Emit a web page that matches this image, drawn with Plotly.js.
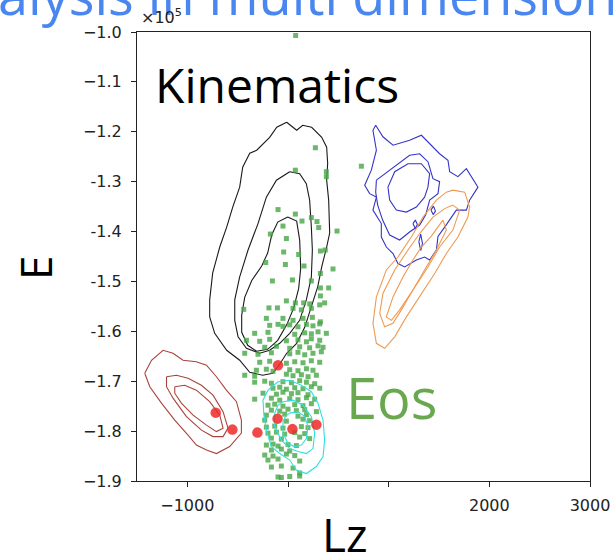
<!DOCTYPE html>
<html><head><meta charset="utf-8">
<script src="https://cdn.plot.ly/plotly-3.0.1.min.js"></script>
<style>html,body{margin:0;padding:0;background:#fff;}#chart{width:616px;height:557px;}</style>
</head><body><div id="chart"></div>
<script>
// E values are in units of 10^5
const xTickVals = [-1000, 0, 1000, 2000, 3000];
const xTickText = ['\u22121000', '', '', '2000', '3000'];
const yTickVals = [-1.0, -1.1, -1.2, -1.3, -1.4, -1.5, -1.6, -1.7, -1.8, -1.9];
const yTickText = ['\u22121.0', '\u22121.1', '\u22121.2', '-1.3', '-1.4', '-1.5', '-1.6', '\u22121.7', '\u22121.8', '\u22121.9'];

const kinOuter = [[-13,-1.181],[86,-1.197],[146,-1.187],[235,-1.191],[335,-1.211],[384,-1.231],[394,-1.263],[384,-1.297],[404,-1.337],[414,-1.403],[384,-1.431],[335,-1.471],[295,-1.511],[235,-1.551],[166,-1.592],[86,-1.624],[-13,-1.644],[-102,-1.672],[-152,-1.684],[-251,-1.688],[-380,-1.682],[-480,-1.658],[-609,-1.638],[-728,-1.604],[-778,-1.571],[-778,-1.537],[-748,-1.483],[-678,-1.431],[-609,-1.391],[-549,-1.351],[-480,-1.311],[-450,-1.271],[-380,-1.243],[-311,-1.237],[-182,-1.211],[-112,-1.191]];
const kinMiddle = [[17,-1.280],[116,-1.284],[182,-1.304],[215,-1.337],[232,-1.391],[242,-1.437],[232,-1.491],[182,-1.537],[116,-1.578],[17,-1.604],[-82,-1.624],[-182,-1.638],[-281,-1.644],[-413,-1.634],[-496,-1.611],[-529,-1.578],[-529,-1.537],[-480,-1.491],[-397,-1.437],[-298,-1.384],[-215,-1.331],[-115,-1.297]];
const kinInner = [[-3,-1.371],[86,-1.379],[116,-1.417],[126,-1.474],[106,-1.514],[57,-1.553],[-13,-1.587],[-102,-1.618],[-202,-1.636],[-311,-1.640],[-400,-1.628],[-460,-1.602],[-460,-1.568],[-430,-1.532],[-360,-1.498],[-261,-1.469],[-202,-1.443],[-162,-1.407],[-102,-1.381]];

const brownOuter = [[-1423,-1.684],[-1356,-1.658],[-1241,-1.638],[-1142,-1.644],[-1043,-1.658],[-910,-1.661],[-810,-1.668],[-711,-1.691],[-612,-1.718],[-512,-1.741],[-463,-1.778],[-463,-1.804],[-579,-1.831],[-711,-1.845],[-810,-1.838],[-910,-1.828],[-993,-1.808],[-1125,-1.778],[-1257,-1.744],[-1373,-1.711]];
const brownMiddle = [[-1207,-1.691],[-1108,-1.688],[-993,-1.694],[-860,-1.708],[-745,-1.728],[-645,-1.761],[-596,-1.794],[-645,-1.811],[-745,-1.811],[-860,-1.798],[-1009,-1.771],[-1142,-1.734],[-1207,-1.711]];
const brownInner = [[-1125,-1.711],[-1026,-1.708],[-910,-1.718],[-778,-1.741],[-678,-1.768],[-645,-1.794],[-711,-1.801],[-810,-1.788],[-943,-1.768],[-1059,-1.744],[-1125,-1.724]];

const cyanOuter = [[-99,-1.701],[17,-1.698],[133,-1.708],[232,-1.721],[298,-1.744],[348,-1.778],[364,-1.818],[348,-1.851],[282,-1.871],[183,-1.885],[83,-1.878],[17,-1.858],[-82,-1.845],[-165,-1.831],[-215,-1.798],[-241,-1.764],[-248,-1.738],[-199,-1.718]];
const cyanMiddle = [[-50,-1.741],[50,-1.738],[149,-1.748],[232,-1.771],[265,-1.804],[248,-1.835],[183,-1.845],[99,-1.841],[17,-1.835],[-66,-1.818],[-132,-1.791],[-132,-1.764],[-99,-1.748]];
const cyanInner = [[17,-1.764],[99,-1.761],[166,-1.771],[199,-1.791],[183,-1.815],[133,-1.828],[67,-1.831],[0,-1.825],[-50,-1.804],[-50,-1.781],[-23,-1.770]];

const blueOuter = [[871,-1.187],[943,-1.210],[1043,-1.227],[1208,-1.217],[1325,-1.207],[1424,-1.227],[1506,-1.244],[1589,-1.257],[1606,-1.280],[1688,-1.290],[1772,-1.274],[1887,-1.311],[1804,-1.337],[1772,-1.357],[1672,-1.357],[1560,-1.390],[1490,-1.410],[1474,-1.437],[1407,-1.457],[1357,-1.451],[1275,-1.457],[1159,-1.471],[1092,-1.464],[1043,-1.444],[977,-1.431],[927,-1.411],[927,-1.384],[844,-1.357],[878,-1.331],[811,-1.324],[762,-1.307],[828,-1.277],[878,-1.237],[844,-1.197]];
const blueMiddle = [[878,-1.297],[1010,-1.277],[1208,-1.247],[1308,-1.244],[1390,-1.260],[1440,-1.294],[1506,-1.300],[1490,-1.324],[1407,-1.337],[1367,-1.367],[1308,-1.387],[1208,-1.401],[1109,-1.417],[1010,-1.407],[940,-1.377],[891,-1.347],[871,-1.321]];
const blueInner = [[993,-1.311],[1060,-1.280],[1192,-1.264],[1325,-1.264],[1407,-1.284],[1390,-1.311],[1357,-1.331],[1275,-1.351],[1176,-1.361],[1076,-1.357],[1010,-1.337]];
const blueIsland1 = [[1241,-1.384],[1265,-1.377],[1285,-1.386],[1265,-1.394]];
const blueIsland2 = [[1420,-1.357],[1445,-1.349],[1465,-1.359],[1442,-1.366]];
const blueIsland3 = [[1300,-1.420],[1318,-1.405],[1336,-1.424],[1318,-1.438]];

const orangeOuter = [[1638,-1.317],[1755,-1.321],[1804,-1.351],[1787,-1.371],[1688,-1.411],[1573,-1.444],[1457,-1.484],[1308,-1.531],[1176,-1.571],[1060,-1.611],[960,-1.634],[878,-1.624],[844,-1.584],[878,-1.531],[977,-1.477],[1092,-1.451],[1225,-1.411],[1341,-1.371],[1474,-1.337],[1573,-1.321]];
const orangeMiddle = [[1638,-1.347],[1705,-1.357],[1638,-1.397],[1506,-1.431],[1390,-1.471],[1241,-1.517],[1126,-1.557],[1043,-1.584],[960,-1.591],[911,-1.564],[943,-1.524],[1060,-1.477],[1192,-1.437],[1308,-1.404],[1440,-1.371],[1556,-1.354]];
const orangeInner = [[1539,-1.377],[1420,-1.410],[1325,-1.431],[1241,-1.457],[1142,-1.491],[1043,-1.531],[977,-1.571],[1027,-1.578],[1109,-1.557],[1241,-1.517],[1357,-1.477],[1474,-1.437],[1573,-1.397]];

const greenStars = [
 [76,-1.007],[272,-1.232],[73,-1.277],[381,-1.280],[381,-1.290],[729,-1.269],
 [-99,-1.356],[73,-1.365],[-50,-1.389],[139,-1.379],[232,-1.372],[288,-1.380],[305,-1.392],[487,-1.399],
 [-175,-1.405],[-16,-1.414],[-43,-1.441],[106,-1.446],[322,-1.439],[370,-1.437],
 [-221,-1.462],[-26,-1.466],[159,-1.469],[447,-1.475],[322,-1.484],
 [-155,-1.499],[44,-1.497],[232,-1.499],[322,-1.513],[404,-1.513],
 [-16,-1.539],[73,-1.543],[156,-1.543],[322,-1.529],[364,-1.543],[216,-1.545],[315,-1.547],
 [-440,-1.556],[-189,-1.553],[-105,-1.553],[50,-1.554],[133,-1.557],[232,-1.554],
 [-50,-1.574],[-215,-1.574],[50,-1.578],[149,-1.574],[242,-1.572],[322,-1.581],
 [-182,-1.588],[-99,-1.586],[-50,-1.590],[17,-1.587],[99,-1.591],[183,-1.586],[248,-1.589],[315,-1.585],
 [-331,-1.604],[-199,-1.602],[67,-1.606],[166,-1.603],[232,-1.605],[298,-1.601],[381,-1.604],
 [-413,-1.618],[-281,-1.620],[-182,-1.616],[-16,-1.619],[99,-1.617],[183,-1.621],[232,-1.615],[315,-1.618],
 [-231,-1.632],[-115,-1.630],[17,-1.634],[116,-1.631],[215,-1.633],[298,-1.629],[348,-1.632],
 [-430,-1.644],[-298,-1.646],[-165,-1.643],[17,-1.645],[99,-1.642],[166,-1.647],[248,-1.644],[331,-1.641],
 [-281,-1.662],[-182,-1.660],[-16,-1.664],[67,-1.661],[149,-1.663],[232,-1.659],[315,-1.662],
 [-314,-1.678],[-215,-1.676],[-149,-1.680],[17,-1.677],[99,-1.679],[183,-1.675],[248,-1.678],
 [-430,-1.688],[-331,-1.690],[-16,-1.686],[50,-1.689],[133,-1.687],[199,-1.691],[282,-1.688],
 [-331,-1.702],[-231,-1.700],[-165,-1.704],[-50,-1.701],[34,-1.703],[116,-1.699],[183,-1.702],[265,-1.705],
 [-149,-1.714],[-82,-1.712],[-16,-1.716],[67,-1.713],[149,-1.715],[232,-1.711],[315,-1.714],
 [-248,-1.724],[-115,-1.726],[-50,-1.722],[34,-1.725],[99,-1.723],[199,-1.727],
 [-331,-1.736],[-165,-1.734],[-82,-1.738],[17,-1.735],[99,-1.737],[183,-1.733],[265,-1.736],
 [-199,-1.748],[-132,-1.746],[-50,-1.750],[67,-1.747],[149,-1.749],[232,-1.745],
 [-165,-1.758],[-82,-1.760],[0,-1.756],[83,-1.759],[166,-1.757],[282,-1.761],
 [-215,-1.768],[-33,-1.766],[99,-1.770],[183,-1.767],
 [-231,-1.778],[-16,-1.780],[149,-1.776],[215,-1.779],
 [-215,-1.792],[-132,-1.790],[-50,-1.794],[133,-1.791],[199,-1.793],
 [-199,-1.804],[-115,-1.802],[-33,-1.806],[67,-1.803],[166,-1.805],
 [-165,-1.814],[-66,-1.816],[116,-1.812],[215,-1.815],
 [-215,-1.828],[-149,-1.826],[-99,-1.830],[0,-1.827],[83,-1.829],
 [-165,-1.838],[-66,-1.836],[17,-1.840],
 [-231,-1.848],[-149,-1.850],[-16,-1.846],[67,-1.849],
 [-199,-1.858],[-99,-1.856],[116,-1.860],
 [-165,-1.872],[-66,-1.870],[50,-1.874],
 [116,-1.884],
 [-99,-1.892],[-66,-1.893],[17,-1.891],[116,-1.890]
];
const redStars = [[-718,-1.763],[-552,-1.797],[-304,-1.803],[-104,-1.775],[44,-1.796],[282,-1.787],[-99,-1.668]];

function contourTrace(pts, color){
  const c = pts.concat([pts[0]]);
  return {type:'scatter', mode:'lines', x:c.map(p=>p[0]), y:c.map(p=>p[1]),
          line:{color:color, width:1.1}, hoverinfo:'skip', showlegend:false};
}
const traces = [];
[[kinOuter,'#1a1a1a'],[kinMiddle,'#1a1a1a'],[kinInner,'#1a1a1a'],
 [brownOuter,'#a8443c'],[brownMiddle,'#a8443c'],[brownInner,'#a8443c'],
 [blueOuter,'#3434c8'],[blueMiddle,'#3434c8'],[blueInner,'#3434c8'],
 [blueIsland1,'#3434c8'],[blueIsland2,'#3434c8'],[blueIsland3,'#3434c8'],
 [orangeOuter,'#ef9a52'],[orangeMiddle,'#ef9a52'],[orangeInner,'#ef9a52']
].forEach(([p,c])=>traces.push(contourTrace(p,c)));
traces.push({type:'scatter', mode:'markers', x:greenStars.map(p=>p[0]), y:greenStars.map(p=>p[1]),
  marker:{symbol:'square', size:5, color:'rgba(70,165,70,0.8)', line:{width:0}}, showlegend:false});
[[cyanOuter,'#2fe0e0'],[cyanMiddle,'#2fe0e0'],[cyanInner,'#2fe0e0']].forEach(([p,c])=>traces.push(contourTrace(p,c)));
traces.push({type:'scatter', mode:'markers', x:redStars.map(p=>p[0]), y:redStars.map(p=>p[1]),
  marker:{symbol:'circle', size:10.5, color:'rgba(238,40,40,0.85)', line:{width:0}}, showlegend:false});

const L=137, R=590, T=32, B=481;
const px = v => (v - L)/(R - L);
const py = v => (B - v)/(B - T);

const layout = {
  width:616, height:557,
  margin:{l:L, r:616-R, t:T, b:557-B, pad:0},
  paper_bgcolor:'#fff', plot_bgcolor:'#fff',
  showlegend:false,
  xaxis:{range:[-1500,3000], tickvals:xTickVals, ticktext:xTickText, ticks:'outside', ticklen:5, tickwidth:1, tickcolor:'#222',
         showline:true, linecolor:'#222', linewidth:1, mirror:true, showgrid:false, zeroline:false,
         tickfont:{family:'DejaVu Sans', size:16, color:'#222'}, ticklabelstandoff:5},
  yaxis:{range:[-1.9,-1.0], tickvals:yTickVals, ticktext:yTickText, ticks:'outside', ticklen:5, tickwidth:1, tickcolor:'#222',
         showline:true, linecolor:'#222', linewidth:1, mirror:true, showgrid:false, zeroline:false,
         tickfont:{family:'DejaVu Sans', size:16, color:'#222'}, ticklabelstandoff:6},
  annotations:[
    {text:'alysis in multi dimension', xref:'paper', yref:'paper', x:px(-4), y:py(-6), xanchor:'left', yanchor:'middle', showarrow:false,
     font:{family:'Open Sans', size:54, color:'#4a86f0'}},
    {text:'\u00d710<sup>5</sup>', xref:'paper', yref:'paper', x:px(139), y:py(17), xanchor:'left', yanchor:'middle', showarrow:false,
     font:{family:'DejaVu Sans', size:16, color:'#222'}},
    {text:'Kinematics', xref:'paper', yref:'paper', x:px(153), y:py(84), xanchor:'left', yanchor:'middle', showarrow:false,
     font:{family:'Open Sans', size:48, color:'#000'}},
    {text:'Eos', xref:'paper', yref:'paper', x:px(344), y:py(397), xanchor:'left', yanchor:'middle', showarrow:false,
     font:{family:'Open Sans', size:56, color:'#6aa84f'}},
    {text:'E', xref:'paper', yref:'paper', x:px(35), y:py(268), xanchor:'center', yanchor:'middle', showarrow:false, textangle:-90,
     font:{family:'Open Sans', size:44, color:'#000'}},
    {text:'Lz', xref:'paper', yref:'paper', x:px(345), y:py(534), xanchor:'center', yanchor:'middle', showarrow:false,
     font:{family:'Open Sans', size:46, color:'#000'}}
  ]
};
Plotly.newPlot('chart', traces, layout, {staticPlot:true, displayModeBar:false});
</script></body></html>
